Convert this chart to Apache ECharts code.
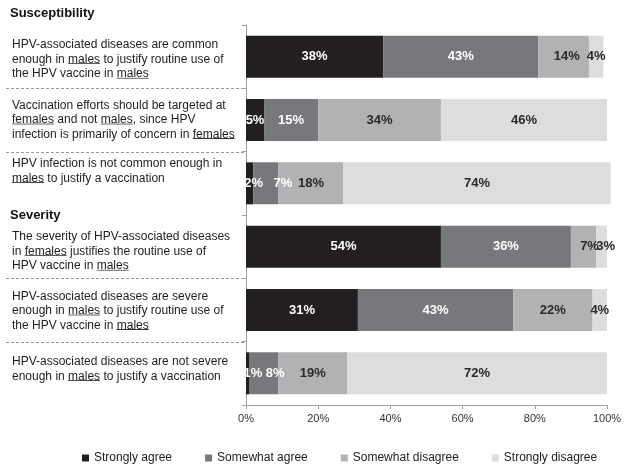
<!DOCTYPE html>
<html>
<head>
<meta charset="utf-8">
<script src="https://cdn.jsdelivr.net/npm/echarts@6/dist/echarts.min.js"></script>
<style>
html,body{margin:0;padding:0;background:#fff;}
#chart{width:629px;height:472px;}
</style>
</head>
<body>
<div id="chart"></div>
<script>
// ---- data ----
const categories = [
  "HPV-associated diseases are common\nenough in males to justify routine use of\nthe HPV vaccine in males",
  "Vaccination efforts should be targeted at\nfemales and not males, since HPV\ninfection is primarily of concern in females",
  "HPV infection is not common enough in\nmales to justify a vaccination",
  "The severity of HPV-associated diseases\nin females justifies the routine use of\nHPV vaccine in males",
  "HPV-associated diseases are severe\nenough in males to justify routine use of\nthe HPV vaccine in males",
  "HPV-associated diseases are not severe\nenough in males to justify a vaccination"
];
const seriesNames = ["Strongly agree", "Somewhat agree", "Somewhat disagree", "Strongly disagree"];
const stronglyAgree = [38, 5, 2, 54, 31, 1];
const somewhatAgree = [43, 15, 7, 36, 43, 8];
const somewhatDisagree = [14, 34, 18, 7, 22, 19];
const stronglyDisagree = [4, 46, 74, 3, 4, 72];
const groupHeaders = ["Susceptibility", "Severity"];
const xTickValues = [0, 20, 40, 60, 80, 100];

// ---- styling ----
const FONT = "'Liberation Sans', Arial, sans-serif";
const colors = ["#231f20", "#77787b", "#b1b2b4", "#dcdddf"];
const labelColors = ["#ffffff", "#ffffff", "#2a2a2a", "#2a2a2a"];
// horizontal nudges of crowded value labels (series index -> row -> px)
const labelShift = [{2: 4, 5: 5}, {2: 17, 5: 11}, {0: 3, 3: 6}, {3: 4}];
// vertical nudges of category labels (px, positive = down)
const rowTextShift = [3, 0, -12, 5, 1, -4];

const uc = document.createElement('canvas');
uc.width = 2; uc.height = 15;
const uctx = uc.getContext('2d');
uctx.fillStyle = '#333';
uctx.fillRect(0, 12, 2, 1);

const allValues = [stronglyAgree, somewhatAgree, somewhatDisagree, stronglyDisagree];

const yData = categories.map((c, i) => {
  const d = rowTextShift[i];
  return {
    value: c,
    textStyle: { align: 'left', padding: d >= 0 ? [2 * d, 0, 0, 0] : [0, 0, -2 * d, 0] }
  };
});

const series = allValues.map((vals, s) => ({
  name: seriesNames[s],
  type: 'bar',
  stack: 'total',
  barWidth: 42,
  clip: false,
  itemStyle: { color: colors[s] },
  label: {
    show: true,
    position: 'inside',
    formatter: '{c}%',
    color: labelColors[s],
    fontFamily: FONT,
    fontWeight: 'bold',
    fontSize: 13
  },
  data: vals.map((v, i) => {
    const dx = labelShift[s][i];
    return dx ? { value: v, label: { offset: [dx, 0] } } : v;
  })
}));

const chart = echarts.init(document.getElementById('chart'));
chart.setOption({
  animation: false,
  backgroundColor: '#ffffff',
  textStyle: { fontFamily: FONT },
  grid: { left: 246, top: 25, width: 361, height: 380, containLabel: false, outerBoundsMode: 'none' },
  legend: {
    data: seriesNames,
    top: 447,
    left: 77,
    icon: 'rect',
    itemWidth: 7,
    itemHeight: 7,
    itemGap: 33,
    textStyle: { fontSize: 12, color: '#222', fontFamily: FONT }
  },
  xAxis: {
    type: 'value',
    min: xTickValues[0],
    max: xTickValues[xTickValues.length - 1],
    interval: xTickValues[1] - xTickValues[0],
    splitLine: { show: false },
    axisLine: { show: true, lineStyle: { color: '#a0a0a0' } },
    axisTick: { show: true, length: 4, lineStyle: { color: '#a0a0a0' } },
    axisLabel: { formatter: '{value}%', fontSize: 11, color: '#333', margin: 8, fontFamily: FONT }
  },
  yAxis: {
    type: 'category',
    inverse: true,
    data: yData,
    axisLine: { show: true, lineStyle: { color: '#a0a0a0' } },
    axisTick: { show: true, length: 4, lineStyle: { color: '#a0a0a0' } },
    axisLabel: {
      align: 'left',
      margin: 234,
      fontSize: 12,
      lineHeight: 14.5,
      color: '#1e1e1e',
      fontFamily: FONT,
      formatter: v => v.replace(/\b(females|males)\b/g, '{u|$1}'),
      rich: {
        u: { fontSize: 12, lineHeight: 14.5, color: '#1e1e1e', fontFamily: FONT, backgroundColor: { image: uc } }
      }
    }
  },
  series: series
});

// decorations: group headers and dashed row separators
const py = i => chart.convertToPixel({ yAxisIndex: 0 }, i);
const boundary = i => (py(i - 1) + py(i)) / 2;
const topY = 25;
const graphics = [
  { type: 'text', left: 10, top: topY - 18, style: { text: groupHeaders[0], font: 'bold 13px ' + FONT, fill: '#111' } },
  { type: 'text', x: 10, y: boundary(3), style: { text: groupHeaders[1], font: 'bold 13px ' + FONT, fill: '#111', verticalAlign: 'middle' } }
];
[1, 2, 4, 5].forEach(i => {
  const y = Math.round(boundary(i)) + 0.5;
  graphics.push({
    type: 'line',
    shape: { x1: 6, y1: y, x2: 246, y2: y },
    style: { stroke: '#9a9a9a', lineWidth: 1, lineDash: [3, 2] }
  });
});
chart.setOption({ graphic: graphics });
</script>
</body>
</html>
